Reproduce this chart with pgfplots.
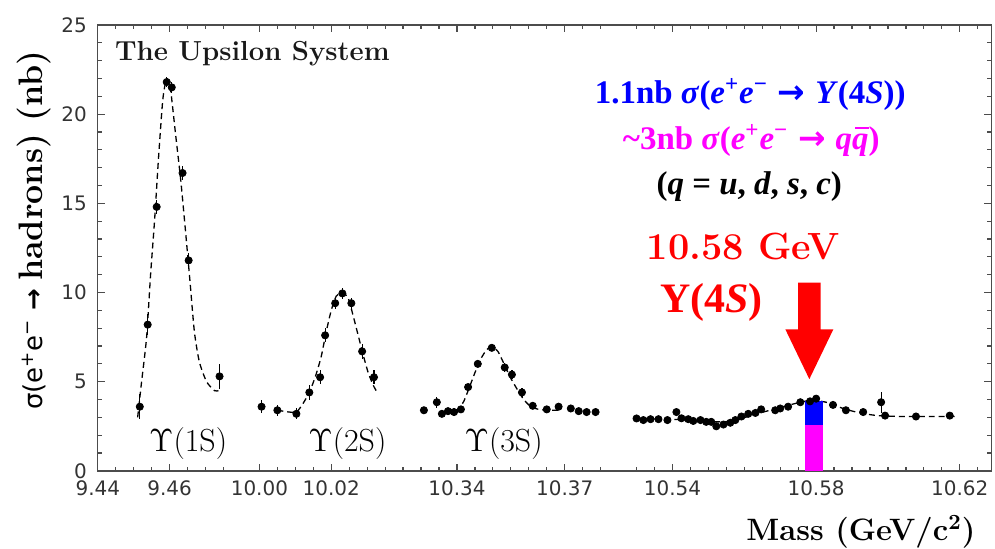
\RequirePackage{fix-cm}
\documentclass[border=0pt]{standalone}
\usepackage{fontspec}
\usepackage{amsmath}
\usepackage{pgfplots}
\usepackage{pgfplotstable}
\pgfplotsset{compat=1.18}
\newfontfamily\dvs{DejaVu Sans}
\newfontfamily\lsf{Liberation Serif}
\definecolor{myblue}{RGB}{0,0,255}
\definecolor{mymag}{RGB}{255,0,255}
\definecolor{myred}{RGB}{255,0,0}

% ---- data points (mass in GeV, sigma in nb, error) ----
\pgfplotstableread{
m s e
9.4517 3.6 0.7
9.4539 8.2 0.6
9.4564 14.8 0.4
9.4592 21.8 0.3
9.4606 21.5 0.3
9.4636 16.7 0.4
9.4653 11.8 0.4
9.4739 5.3 0.7
}\segAdata
\pgfplotstableread{
m s
9.4511 3.0
9.4522 5.0
9.4536 7.5
9.4547 11.0
9.4558 14.0
9.4569 17.5
9.4581 20.8
9.4592 22.0
9.4603 21.3
9.4617 18.8
9.4631 16.3
9.4644 13.5
9.4656 10.8
9.4669 7.8
9.4683 6.1
9.4703 5.0
9.4725 4.5
9.4736 4.5
}\segAfit
\pgfplotstableread{
m s e
10.0006 3.6 0.35
10.0050 3.4 0.3
10.0103 3.2 0.3
10.0139 4.4 0.4
10.0169 5.25 0.4
10.0183 7.6 0.4
10.0211 9.4 0.3
10.0231 9.95 0.3
10.0256 9.4 0.3
10.0286 6.7 0.4
10.0319 5.25 0.4
}\segBdata
\pgfplotstableread{
m s
10.0050 3.4
10.0083 3.3
10.0103 3.3
10.0119 3.7
10.0139 4.4
10.0156 5.3
10.0172 6.4
10.0186 7.8
10.0200 9.0
10.0214 9.8
10.0231 10.0
10.0247 9.7
10.0261 8.7
10.0275 7.6
10.0289 6.5
10.0303 5.5
10.0317 4.8
10.0328 4.4
}\segBfit
\pgfplotstableread{
m s e
10.3308 3.4 0.2
10.3344 3.85 0.3
10.3358 3.2 0.2
10.3375 3.35 0.2
10.3392 3.3 0.2
10.3411 3.45 0.2
10.3431 4.7 0.2
10.3458 6.0 0.2
10.3497 6.9 0.15
10.3533 5.8 0.25
10.3553 5.4 0.25
10.3581 4.4 0.25
10.3611 3.65 0.2
10.3650 3.45 0.15
10.3683 3.6 0.15
10.3717 3.5 0.15
10.3739 3.35 0.15
10.3761 3.3 0.15
10.3786 3.3 0.2
}\segCdata
\pgfplotstableread{
m s
10.3400 3.3
10.3419 3.9
10.3433 4.6
10.3450 5.5
10.3467 6.3
10.3483 6.8
10.3497 6.95
10.3514 6.7
10.3531 6.0
10.3547 5.3
10.3567 4.6
10.3586 4.0
10.3606 3.6
10.3628 3.45
10.3656 3.4
10.3683 3.4
}\segCfit
\pgfplotstableread{
m s e
10.5300 2.94 0.12
10.5319 2.85 0.12
10.5339 2.9 0.12
10.5361 2.9 0.12
10.5386 2.85 0.12
10.5411 3.3 0.15
10.5425 2.95 0.12
10.5444 2.9 0.12
10.5458 2.8 0.12
10.5478 2.85 0.12
10.5494 2.75 0.12
10.5508 2.75 0.12
10.5522 2.5 0.15
10.5542 2.6 0.12
10.5561 2.7 0.12
10.5575 2.85 0.12
10.5592 3.05 0.12
10.5611 3.2 0.12
10.5631 3.25 0.12
10.5647 3.45 0.15
10.5686 3.4 0.12
10.5700 3.5 0.12
10.5722 3.6 0.12
10.5756 3.85 0.12
10.5783 3.9 0.12
10.5800 4.05 0.12
10.5847 3.7 0.12
10.5883 3.4 0.12
10.5931 3.3 0.15
10.5981 3.85 0.6
10.5992 3.1 0.2
10.6078 3.05 0.12
10.6172 3.1 0.12
}\segDdata
\pgfplotstableread{
m s
10.5294 2.95
10.5361 2.92
10.5444 2.85
10.5514 2.75
10.5569 2.8
10.5625 3.15
10.5681 3.45
10.5736 3.75
10.5783 3.95
10.5828 3.85
10.5875 3.5
10.5922 3.25
10.5972 3.1
10.6042 3.05
10.6125 3.05
10.6194 3.05
}\segDfit

\pgfplotsset{
  seg1/.style={x filter/.expression={(x-9.44)*200}},
  seg2/.style={x filter/.expression={(x-10)*200+9}},
  seg3/.style={x filter/.expression={(x-10.34)*200+20}},
  seg4/.style={x filter/.expression={(x-10.54)*200+32}},
  fitline/.style={black, line width=0.65pt, dash pattern=on 3pt off 2pt, smooth, tension=0.4, no marks},
  pts/.style={black, only marks, mark=*, mark size=1.8pt,
    error bars/y dir=both, error bars/y explicit, error bars/error mark=none,
    error bars/error bar style={line width=0.6pt, black}},
}

\begin{document}
\begin{tikzpicture}
\begin{axis}[
  at={(0,0)}, anchor=south west,
  scale only axis, width=447.75pt, height=223.5pt,
  xmin=0, xmax=49.75, ymin=0, ymax=25,
  xtick={0,4,9,13,20,26,32,40,48},
  xticklabels={9.44,9.46,10.00,10.02,10.34,10.37,10.54,10.58,10.62},
  minor xtick={1,2,3,5,6,7,10,11,12,14,15,16,17,18,19,21,22,23,24,25,27,28,30,31,33,34,35,36,37,38,39,41,42,43,44,45,46,47,49},
  ytick={0,5,10,15,20,25},
  minor ytick={1,2,3,4,6,7,8,9,11,12,13,14,16,17,18,19,21,22,23,24},
  tick align=inside,
  major tick length=3.5pt, minor tick length=2pt,
  axis line style={black!70, line width=0.7pt},
  every tick/.style={black!70, line width=0.6pt},
  tick label style={font=\dvs\fontsize{10}{12}\selectfont, text=black!80},
  /pgf/number format/assume math mode=true,
  xticklabel style={yshift=-1.5pt},
  yticklabel style={xshift=-2pt},
  xlabel={\bfseries\fontsize{15.5}{18}\selectfont Mass (GeV/c\textsuperscript{2})},
  xlabel style={at={(axis description cs:1,0)}, anchor=base east, xshift=-7.75pt, yshift=-35pt, inner sep=0pt},
  ylabel={{\dvs\fontsize{13}{15}\selectfont σ(e\textsuperscript{+}e\textsuperscript{−} {\bfseries →} }{\bfseries\fontsize{17}{20}\selectfont hadrons) (nb)}},
  ylabel style={at={(axis description cs:-0.0614,0.54)}, anchor=base, inner sep=0pt},
]
% fits
\addplot[seg1, fitline] table[x=m,y=s] {\segAfit};
\addplot[seg2, fitline] table[x=m,y=s] {\segBfit};
\addplot[seg3, fitline] table[x=m,y=s] {\segCfit};
\addplot[seg4, fitline] table[x=m,y=s] {\segDfit};
% Upsilon(4S) bar: total 3.9 nb (blue) over q-qbar continuum 2.6 nb (magenta)
\addplot[seg4, ybar, bar width=1, bar shift=0pt, fill=myblue, draw=none] coordinates {(10.5795,3.9)};
\addplot[seg4, ybar, bar width=1, bar shift=0pt, fill=mymag, draw=none] coordinates {(10.5795,2.6)};
% data points
\addplot[seg1, pts] table[x=m,y=s,y error=e] {\segAdata};
\addplot[seg2, pts] table[x=m,y=s,y error=e] {\segBdata};
\addplot[seg3, pts] table[x=m,y=s,y error=e] {\segCdata};
\addplot[seg4, pts] table[x=m,y=s,y error=e] {\segDdata};
\end{axis}
% annotations (axis origin at (0,0); 9pt per x unit, 8.94pt per nb)
\node[anchor=base west, inner sep=0pt, text=black!90] at (8.5pt,205.6pt) {\bfseries\fontsize{13.8}{16}\selectfont The Upsilon System};
\node[anchor=base, inner sep=0pt] at (45.3pt,9.8pt) {\fontsize{16}{18}\selectfont $\Upsilon$(1S)};
\node[anchor=base, inner sep=0pt] at (125.1pt,9.8pt) {\fontsize{16}{18}\selectfont $\Upsilon$(2S)};
\node[anchor=base, inner sep=0pt] at (203.4pt,9.8pt) {\fontsize{16}{18}\selectfont $\Upsilon$(3S)};
\node[anchor=base, inner sep=0pt, text=myblue] at (327pt,184.2pt) {\lsf\bfseries\fontsize{16.5}{19}\selectfont 1.1nb \textit{σ}(\textit{e}\textsuperscript{+}\textit{e}\textsuperscript{−}\hspace{0.3em}{\dvs →}\hspace{0.3em}\textit{Y}(4\textit{S}))};
\node[anchor=base, inner sep=0pt, text=mymag] at (327.5pt,160.9pt) {\lsf\bfseries\fontsize{16.5}{19}\selectfont \textasciitilde3nb \textit{σ}(\textit{e}\textsuperscript{+}\textit{e}\textsuperscript{−}\hspace{0.3em}{\dvs →}\hspace{0.3em}\textit{q}\rlap{\hspace{0.1em}\rule[0.62em]{0.42em}{0.07em}}\textit{q})};
\node[anchor=base, inner sep=0pt, text=black] at (326.5pt,138.6pt) {\lsf\bfseries\fontsize{16.5}{19}\selectfont (\textit{q} = \textit{u}, \textit{d}, \textit{s}, \textit{c})};
\node[anchor=base, inner sep=0pt, text=myred] at (323.5pt,105.9pt) {\bfseries\fontsize{19}{22}\selectfont 10.58 GeV};
\node[anchor=base, inner sep=0pt, text=myred] at (307.5pt,79.4pt) {\lsf\bfseries\fontsize{21}{24}\selectfont Υ(4\textit{S})};
\fill[myred] (351pt,94.4pt) -- (362.2pt,94.4pt) -- (362.2pt,70.9pt) -- (368.6pt,70.9pt) -- (356.6pt,46pt) -- (344.6pt,70.9pt) -- (351pt,70.9pt) -- cycle;
\path[use as bounding box] (-49pt,-37.5pt) rectangle (448.5pt,236pt);
\end{tikzpicture}
\end{document}
